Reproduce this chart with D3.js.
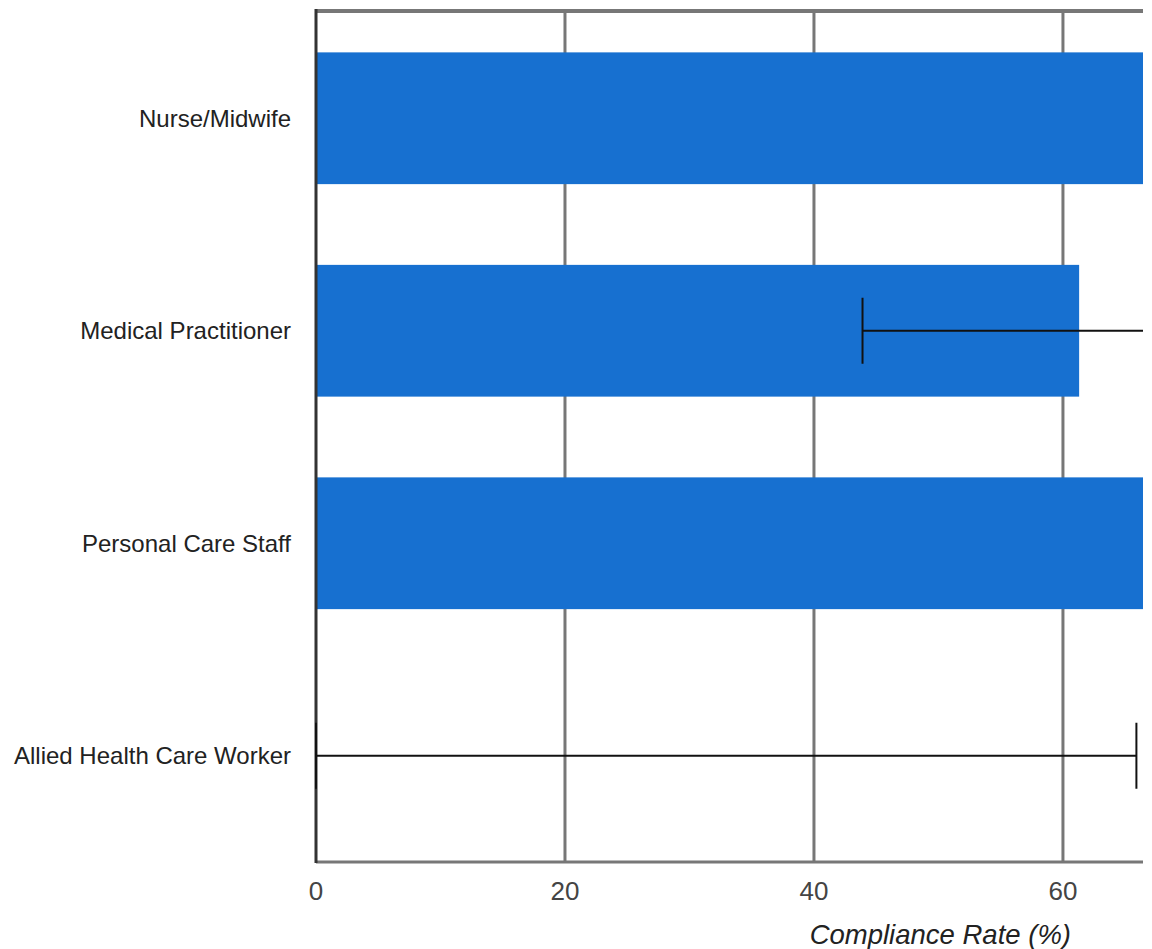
<!DOCTYPE html>
<html>
<head>
<meta charset="utf-8">
<script src="https://cdn.jsdelivr.net/npm/d3@7"></script>
<style>
  body { margin: 0; background: #fff; }
  text { font-family: "Liberation Sans", Arial, sans-serif; }
</style>
</head>
<body>
<script>
// data
var categories = ["Nurse/Midwife", "Medical Practitioner", "Personal Care Staff", "Allied Health Care Worker"];
var rates = [78, 61.3, 74, 0];
var errLow = [null, 43.9, null, 0];
var errHigh = [null, 80, null, 65.9];
var xTicks = [0, 20, 40, 60];

var margin = {top: 12, right: 9, bottom: 87, left: 316},
    width = 1152 - margin.left - margin.right,
    height = 949 - margin.top - margin.bottom;

var data = categories.map(function(c, i) {
  return {name: c, rate: rates[i], lo: errLow[i], hi: errHigh[i]};
});

var x = d3.scaleLinear().domain([0, 66.43]).range([0, width]);
var y = d3.scaleBand().domain(categories).range([0, height]).paddingInner(0.38).paddingOuter(0.19);

var svg = d3.select("body").append("svg")
    .attr("width", 1152)
    .attr("height", 949)
  .append("g")
    .attr("transform", "translate(" + margin.left + "," + margin.top + ")");

svg.append("defs").append("clipPath").attr("id", "clip")
  .append("rect").attr("x", -2).attr("y", -2).attr("width", width + 2).attr("height", height + 4);

// grid
svg.selectAll(".grid")
    .data(xTicks.slice(1))
  .enter().append("line")
    .attr("class", "grid")
    .attr("x1", function(d) { return x(d); })
    .attr("x2", function(d) { return x(d); })
    .attr("y1", 0)
    .attr("y2", height)
    .attr("stroke", "#777")
    .attr("stroke-width", 3);

// frame top / bottom
svg.append("line").attr("x1", 0).attr("x2", width).attr("y1", -1).attr("y2", -1)
  .attr("stroke", "#777").attr("stroke-width", 4);
svg.append("line").attr("x1", 0).attr("x2", width).attr("y1", height).attr("y2", height)
  .attr("stroke", "#777").attr("stroke-width", 3);

var plot = svg.append("g").attr("clip-path", "url(#clip)");

plot.selectAll(".bar")
    .data(data)
  .enter().append("rect")
    .attr("class", "bar")
    .attr("x", x(0))
    .attr("y", function(d) { return y(d.name); })
    .attr("width", function(d) { return x(d.rate) - x(0); })
    .attr("height", y.bandwidth())
    .attr("fill", "#1770d0");

// left axis line
svg.append("line").attr("x1", 0).attr("x2", 0).attr("y1", -3).attr("y2", height + 1)
  .attr("stroke", "#333").attr("stroke-width", 3);

var errs = data.filter(function(d) { return d.lo !== null; });
var capH = 33;
var errG = svg.append("g").attr("clip-path", "url(#clip)");

errG.selectAll(".err")
    .data(errs)
  .enter().append("line")
    .attr("x1", function(d) { return x(d.lo); })
    .attr("x2", function(d) { return x(d.hi); })
    .attr("y1", function(d) { return y(d.name) + y.bandwidth() / 2; })
    .attr("y2", function(d) { return y(d.name) + y.bandwidth() / 2; })
    .attr("stroke", "#111").attr("stroke-width", 2);

errs.forEach(function(d) {
  var cy = y(d.name) + y.bandwidth() / 2;
  [d.lo, d.hi].forEach(function(v) {
    errG.append("line")
      .attr("x1", x(v)).attr("x2", x(v))
      .attr("y1", cy - capH).attr("y2", cy + capH)
      .attr("stroke", "#111").attr("stroke-width", 2);
  });
});

// x tick labels
svg.selectAll(".xt")
    .data(xTicks)
  .enter().append("text")
    .attr("x", function(d) { return x(d); })
    .attr("y", height + 38)
    .attr("text-anchor", "middle")
    .attr("font-size", 26)
    .attr("fill", "#444")
    .text(function(d) { return d; });

// category labels
svg.selectAll(".cat")
    .data(categories)
  .enter().append("text")
    .attr("x", -25)
    .attr("y", function(d) { return y(d) + y.bandwidth() / 2; })
    .attr("dy", "0.35em")
    .attr("text-anchor", "end")
    .attr("font-size", 24)
    .attr("fill", "#222")
    .text(function(d) { return d; });

svg.append("text")
    .attr("x", 1071 - margin.left)
    .attr("y", height + 82)
    .attr("text-anchor", "end")
    .attr("font-size", 27.5)
    .attr("font-style", "italic")
    .attr("fill", "#222")
    .text("Compliance Rate (%)");
</script>
</body>
</html>
